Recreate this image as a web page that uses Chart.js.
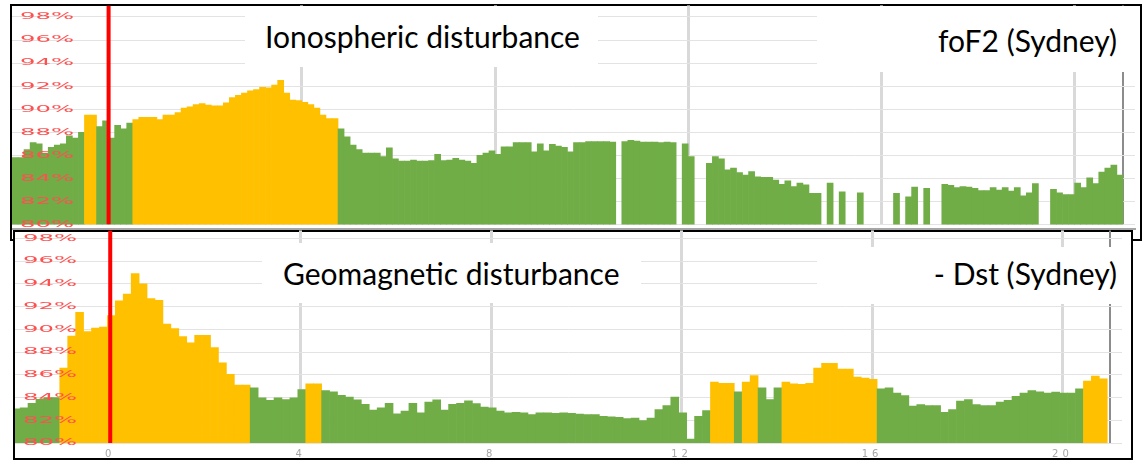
<!DOCTYPE html>
<html>
<head>
<meta charset="utf-8">
<script src="https://cdn.jsdelivr.net/npm/chart.js@4.4.1/dist/chart.umd.min.js"></script>
<style>
  html, body { margin: 0; padding: 0; background: #fff; overflow: hidden; }
  body { width: 1143px; height: 461px; position: relative; font-family: Lato, "Open Sans", sans-serif; }
  .panel { position: absolute; border: 2px solid #000; box-sizing: border-box; background: #fff; }
  canvas { position: absolute; }
  .box { position: absolute; background: #fff; }
  .box span { position: absolute; font-size: 30px; line-height: 30px; color: #000; white-space: nowrap; }
  .axisline { position: absolute; background: #a6a6a6; }
</style>
</head>
<body>

<div class="panel" style="left:10px;top:4px;width:1132px;height:237px"></div>
<div class="axisline" style="left:12px;top:228px;width:1124px;height:2px"></div>
<canvas id="topChart" width="1129" height="236" style="left:6px;top:-3px"></canvas>
<div class="box" style="left:245px;top:6px;width:353px;height:61px"><span style="left:20px;top:15px">Ionospheric disturbance</span></div>
<div class="box" style="left:817px;top:6px;width:318px;height:66px"><span style="right:18px;top:19px">foF2 (Sydney)</span></div>

<div class="panel" style="left:13px;top:230px;width:1120px;height:230px"></div>
<canvas id="bottomChart" width="1113" height="243" style="left:9px;top:222px"></canvas>
<div class="box" style="left:262px;top:243px;width:379px;height:60px"><span style="left:21px;top:15px">Geomagnetic disturbance</span></div>
<div class="box" style="left:817px;top:247px;width:305px;height:57px"><span style="right:5px;top:11px">- Dst (Sydney)</span></div>

<script>
// days relative to storm onset (day 0)
const xTicks = [0, 4, 8, 12, 16, 20, 21];
const yTicks = [80, 82, 84, 86, 88, 90, 92, 94, 96, 98];

// foF2, 3-hour bins from day -2
const foF2Start = -2;
const foF2Step = 1 / 8;
const foF2Values = [
    85.8, 85.8, 86.5, 87.1, 87.0, 86.2, 86.7, 86.9, 87.0, 87.7,
    87.5, 88.0, 89.5, 89.5, 88.5, 89.0, 87.5, 88.6, 88.3, 88.8,
    89.1, 89.3, 89.3, 89.3, 89.1, 89.5, 89.5, 89.7, 90.1, 90.2,
    90.4, 90.5, 90.35, 90.3, 90.3, 90.55, 91.0, 91.2, 91.4, 91.6,
    91.7, 91.9, 91.85, 92.1, 92.5, 91.4, 90.8, 90.75, 90.6, 90.4,
    90.1, 89.5, 89.2, 89.2, 88.3, 87.6, 86.9, 86.5, 86.2, 86.2,
    86.2, 85.9, 86.65, 85.7, 85.5, 85.5, 85.6, 85.5, 85.5, 85.55,
    86.1, 85.55, 85.6, 85.75, 85.6, 85.5, 85.3, 86.0, 86.2, 86.4,
    86.1, 86.75, 86.75, 87.1, 87.1, 87.1, 86.3, 87.0, 86.4, 86.95,
    86.8, 86.7, 86.3, 87.1, 87.1, 87.2, 87.2, 87.2, 87.2, 87.15,
    null, 87.2, 87.3, 87.25, 87.15, 87.15, 87.15, 87.1, 87.15, 87.1,
    null, 87.0, 85.9, null, null, 85.3, 85.9, 85.7, 84.75, 84.9,
    84.5, 84.3, 84.6, 84.15, 84.1, 84.1, 83.85, 83.5, 83.8, 83.3,
    83.6, 83.45, 82.7, 82.7, null, 83.6, null, 82.85, null, null,
    82.75, null, null, null, null, null, 82.7, null, 82.4, 83.25,
    null, 83.15, null, null, 83.5, 83.4, 83.2, 83.3, 83.25, 83.15,
    82.95, 82.95, 83.2, 83.0, 83.2, 82.9, 83.2, 82.5, 82.75, 83.55,
    null, null, 83.05, 82.75, 82.6, 82.6, 83.6, 83.2, 84.05, 83.55,
    84.55, 84.9, 85.15, 84.3
];
const foF2Storm = [[-0.5, -0.25], [0.5, 4.75]];

// -Dst, 4-hour bins
const dstStart = -2.06;
const dstStep = 1 / 6;
const dstValues = [
    83.0, 83.1, 83.5, 83.85, 84.0, 84.0, 86.6, 89.4, 91.5, 89.8,
    90.1, 90.2, 91.2, 92.5, 93.1, 94.9, 94.0, 92.7, 92.55, 90.45,
    90.06, 89.35, 88.8, 89.47, 89.47, 88.4, 87.06, 86.03, 85.1, 85.1,
    84.85, 83.97, 83.76, 83.97, 83.82, 83.97, 84.7, 85.2, 85.2, 84.6,
    84.5, 84.2, 84.03, 83.8, 83.4, 82.9, 83.1, 83.5, 82.56, 82.8,
    83.5, 82.65, 83.6, 83.8, 82.9, 83.4, 83.5, 83.7, 83.47, 83.15,
    83.1, 82.8, 82.65, 82.7, 82.65, 82.5, 82.65, 82.65, 82.6, 82.65,
    82.6, 82.55, 82.5, 82.5, 82.35, 82.3, 82.26, 82.15, 82.2, 81.97,
    82.2, 82.94, 83.3, 84.03, 82.65, 80.35, 82.35, 82.85, 85.35, 85.24,
    85.24, 84.5, 85.35, 85.94, 84.85, 83.82, 84.85, 85.35, 85.2, 85.15,
    85.25, 86.6, 87.0, 87.0, 86.5, 86.5, 85.8, 85.7, 85.6, 84.76,
    84.85, 84.4, 84.18, 83.24, 83.38, 83.3, 83.3, 82.7, 82.94, 83.68,
    83.82, 83.38, 83.3, 83.3, 83.6, 83.76, 84.1, 84.4, 84.6, 84.5,
    84.4, 84.47, 84.4, 84.4, 84.76, 85.44, 85.88, 85.65
];
const dstStorm = [[-1.06, 2.94], [4.11, 4.44], [12.61, 13.11], [13.27, 13.61], [14.11, 16.11], [20.44, 21]];

const GREEN = '#70ad47';
const ORANGE = '#ffc000';

// the percent labels in the original are squashed flat and wide:
// draw the (z:1) y labels with a horizontal stretch from the plot's left edge
const wideLabels = {
    id: 'wideLabels',
    beforeDraw(chart) { chart.ctx.letterSpacing = '4px'; },
    afterDatasetsDraw(chart) {
        const ctx = chart.ctx;
        const x0 = chart.chartArea.left;
        ctx.letterSpacing = '0px';
        ctx.save();
        ctx.translate(x0, 0);
        ctx.scale(2.7, 1);
        ctx.translate(-x0, 0);
    },
    afterDraw(chart) { chart.ctx.restore(); }
};

function tickValue(c) {
    return c.tick ? c.tick.value : null;
}

function drawPanel(id, start, step, values, storm, yMax, showX) {
    const points = values.map((v, i) => ({ x: start + (i + 0.5) * step, y: v }));
    const colors = points.map(p => storm.some(s => p.x >= s[0] && p.x < s[1]) ? ORANGE : GREEN);

    new Chart(document.getElementById(id).getContext('2d'), {
        type: 'bar',
        data: {
            datasets: [{
                type: 'line',
                data: [{ x: 0, y: 80 }, { x: 0, y: yMax }],
                borderColor: '#ff0000',
                borderWidth: 4,
                pointRadius: 0
            }, {
                data: points,
                backgroundColor: colors,
                barPercentage: 1,
                categoryPercentage: 1,
                borderWidth: 0
            }]
        },
        options: {
            responsive: false,
            animation: false,
            devicePixelRatio: 1,
            plugins: { legend: { display: false }, tooltip: { enabled: false } },
            scales: {
                x: {
                    type: 'linear',
                    min: -2,
                    max: 21.25,
                    offset: false,
                    afterBuildTicks: axis => { axis.ticks = xTicks.map(v => ({ value: v })); },
                    grid: {
                        offset: false,
                        drawTicks: false,
                        color: c => {
                            const v = tickValue(c);
                            if (v === 0) return 'rgba(0,0,0,0)';
                            return v === 21 ? '#8c8c8c' : '#d9d9d9';
                        },
                        lineWidth: c => tickValue(c) === 21 ? 2 : 3
                    },
                    border: { display: false },
                    ticks: {
                        display: showX,
                        padding: 5,
                        maxRotation: 0,
                        autoSkip: false,
                        color: '#a6a6a6',
                        font: { family: 'DejaVu Sans', size: 10 },
                        callback: v => v === 21 ? '' : String(v)
                    }
                },
                y: {
                    min: 80,
                    max: yMax,
                    afterBuildTicks: axis => { axis.ticks = yTicks.map(v => ({ value: v })); },
                    grid: { drawTicks: false, color: '#e3e3e3', lineWidth: 1 },
                    border: { display: false },
                    ticks: {
                        mirror: true,
                        z: 1,
                        padding: 3,
                        color: '#ff5050',
                        font: { family: 'DejaVu Sans', size: 9 },
                        callback: v => v + '%'
                    }
                }
            }
        },
        plugins: [wideLabels]
    });
}

drawPanel('topChart', foF2Start, foF2Step, foF2Values, foF2Storm, 99, false);
drawPanel('bottomChart', dstStart, dstStep, dstValues, dstStorm, 98.7, true);
</script>
</body>
</html>
